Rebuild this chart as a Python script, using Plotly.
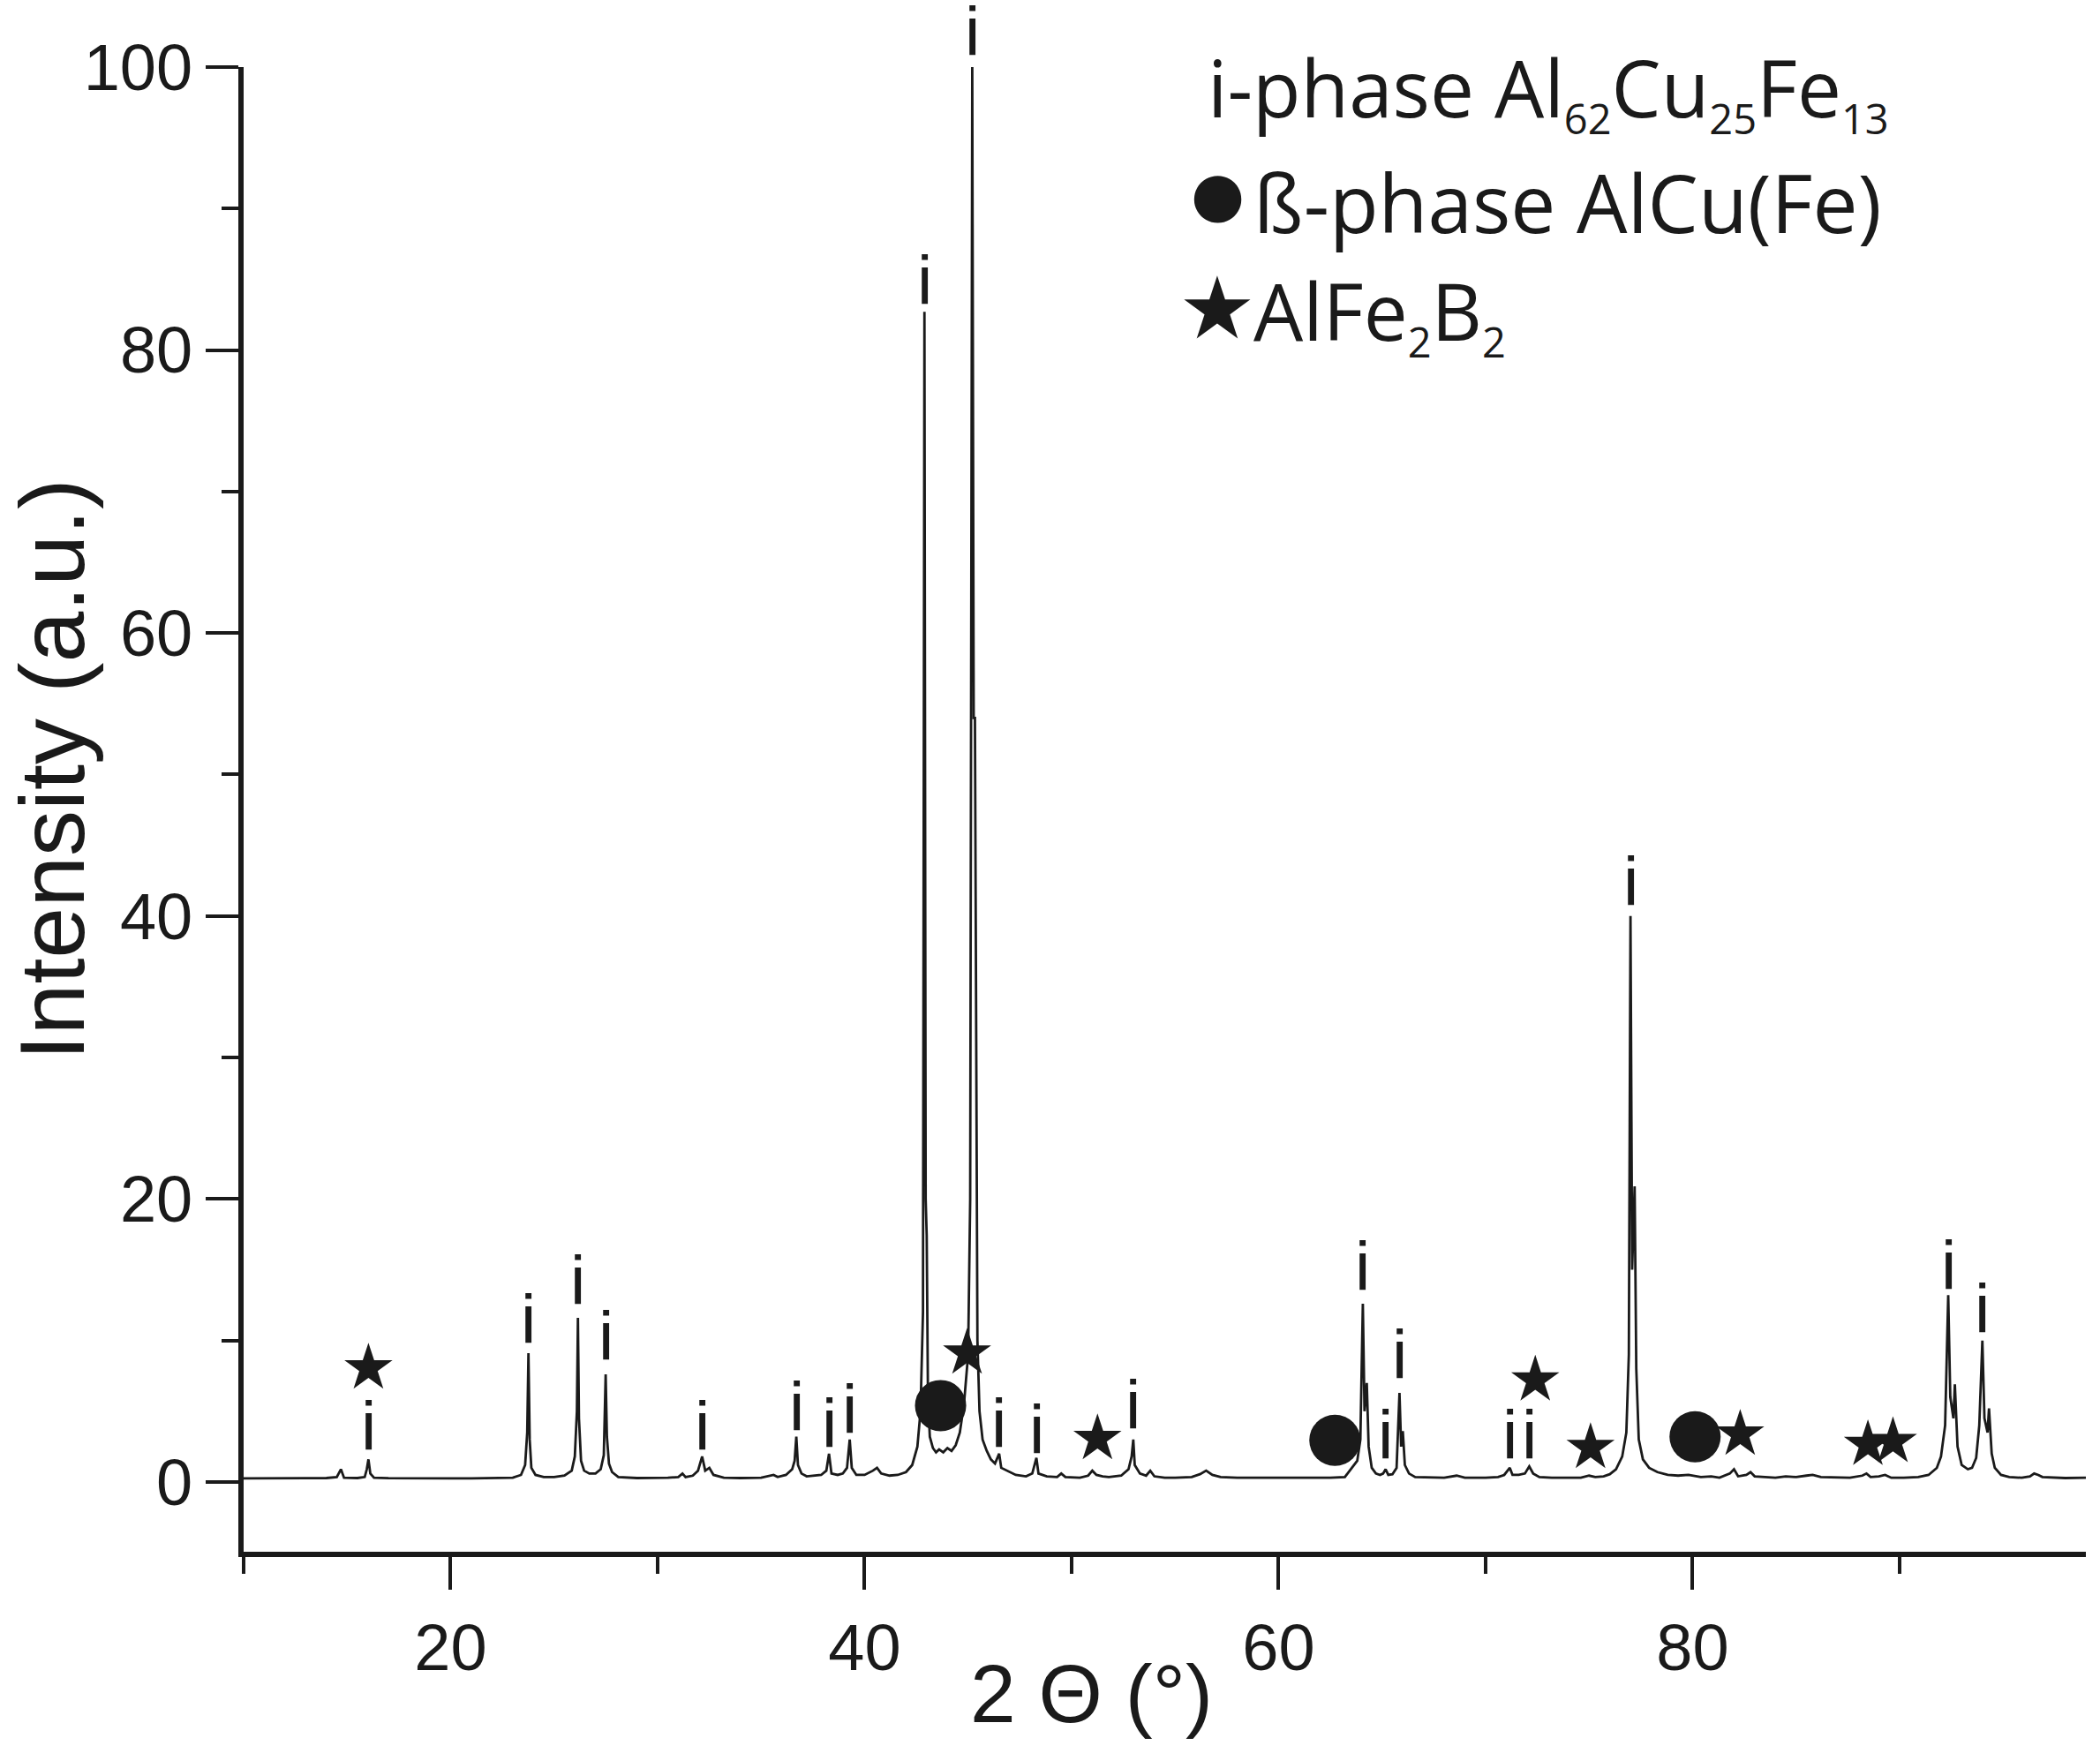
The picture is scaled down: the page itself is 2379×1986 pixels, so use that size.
import plotly.graph_objects as go

# ---------------- data ----------------
TWO_THETA = [
    10.0, 11.0, 12.0, 13.0, 14.0, 14.5, 14.7, 14.85, 15.5, 15.85, 15.95, 16.03, 16.12, 16.3,
    17.0, 18.0, 19.0, 20.0, 21.0, 22.0, 23.0, 23.4, 23.6, 23.7, 23.76, 23.82, 23.9, 24.1,
    24.5, 25.0, 25.5, 25.85, 26.0, 26.1, 26.15, 26.2, 26.3, 26.45, 26.7, 27.0, 27.25, 27.4,
    27.49, 27.55, 27.65, 27.8, 28.1, 29.0, 30.0, 30.5, 31.0, 31.2, 31.35, 31.7, 31.95, 32.15,
    32.3, 32.5, 32.7, 33.2, 34.0, 35.0, 35.6, 35.8, 36.2, 36.5, 36.62, 36.7, 36.78, 36.95,
    37.2, 37.6, 37.9, 38.15, 38.28, 38.4, 38.7, 38.95, 39.15, 39.28, 39.38, 39.6, 40.0, 40.4,
    40.6, 40.8, 41.2, 41.6, 42.0, 42.3, 42.55, 42.7, 42.82, 42.89, 42.95, 43.0, 43.06, 43.15,
    43.3, 43.45, 43.6, 43.8, 44.0, 44.2, 44.4, 44.6, 44.8, 45.0, 45.1, 45.2, 45.27, 45.33,
    45.38, 45.45, 45.55, 45.7, 45.9, 46.1, 46.3, 46.45, 46.5, 46.6, 46.9, 47.3, 47.8, 48.1,
    48.3, 48.4, 48.8, 49.3, 49.5, 49.7, 50.4, 50.8, 51.0, 51.2, 51.5, 51.8, 52.4, 52.75,
    52.9, 52.98, 53.05, 53.3, 53.6, 53.8, 54.0, 54.5, 55.0, 55.8, 56.2, 56.5, 56.8, 57.2,
    58.0, 59.0, 60.0, 61.0, 61.8, 62.5, 63.2, 63.5, 63.8, 63.95, 64.07, 64.15, 64.26, 64.35,
    64.5, 64.7, 64.9, 65.05, 65.17, 65.3, 65.5, 65.7, 65.84, 65.92, 66.0, 66.1, 66.3, 66.6,
    67.5, 68.0, 68.6, 69.0, 70.0, 70.6, 70.9, 71.17, 71.3, 71.6, 71.9, 72.11, 72.3, 72.6,
    73.2, 73.8, 74.6, 75.0, 75.3, 75.7, 76.0, 76.3, 76.6, 76.8, 76.92, 77.0, 77.08, 77.2,
    77.28, 77.4, 77.6, 77.9, 78.3, 78.8, 79.3, 79.8, 80.4, 80.9, 81.3, 81.8, 82.0, 82.2,
    82.6, 82.8, 83.0, 83.5, 84.0, 84.5, 85.0, 85.5, 85.8, 86.2, 87.0, 87.6, 88.2, 88.4,
    88.6, 89.0, 89.3, 89.6, 90.2, 90.9, 91.4, 91.8, 92.0, 92.2, 92.35, 92.45, 92.6, 92.67,
    92.8, 93.0, 93.3, 93.5, 93.7, 93.85, 94.0, 94.1, 94.25, 94.32, 94.45, 94.6, 94.9, 95.3,
    95.9, 96.3, 96.5, 96.7, 96.9, 97.5, 98.0, 99.0,
]
INTENSITY = [
    0.25, 0.27, 0.25, 0.27, 0.28, 0.35, 0.9, 0.3, 0.28, 0.35, 0.9, 1.6, 0.6, 0.3,
    0.27, 0.25, 0.27, 0.25, 0.26, 0.27, 0.3, 0.5, 1.2, 3.5, 9.1, 3.0, 1.0, 0.5,
    0.35, 0.35, 0.45, 0.8, 1.8, 5.0, 11.6, 4.5, 1.5, 0.8, 0.6, 0.6, 0.9, 1.9,
    7.6, 3.2, 1.3, 0.7, 0.35, 0.28, 0.27, 0.3, 0.35, 0.6, 0.35, 0.45, 0.8, 1.8,
    0.8, 1.0, 0.5, 0.3, 0.28, 0.3, 0.5, 0.35, 0.5, 0.9, 1.5, 3.2, 1.2, 0.6,
    0.4, 0.45, 0.5, 0.8, 2.0, 0.6, 0.5, 0.6, 1.0, 3.0, 1.0, 0.5, 0.5, 0.8,
    1.0, 0.6, 0.45, 0.5, 0.7, 1.2, 2.5, 5.0, 12.0, 82.7, 20.0, 17.4, 6.0, 3.2,
    2.4, 2.1, 2.3, 2.1, 2.4, 2.2, 2.6, 3.5, 5.5, 9.0, 20.0, 100.0, 54.0, 54.0,
    38.0, 10.0, 5.0, 3.0, 2.2, 1.6, 1.3, 1.8, 2.0, 1.0, 0.8, 0.5, 0.4, 0.6,
    1.7, 0.6, 0.4, 0.35, 0.6, 0.35, 0.3, 0.45, 0.8, 0.5, 0.4, 0.35, 0.45, 0.9,
    1.8, 3.0, 1.2, 0.6, 0.45, 0.8, 0.4, 0.3, 0.3, 0.35, 0.55, 0.8, 0.5, 0.35,
    0.3, 0.28, 0.3, 0.3, 0.28, 0.3, 0.35, 0.9, 1.5, 3.0, 12.6, 5.0, 7.0, 2.5,
    1.0, 0.6, 0.5, 0.6, 0.9, 0.5, 0.55, 1.0, 6.3, 2.5, 3.6, 1.2, 0.6, 0.35,
    0.3, 0.3, 0.45, 0.3, 0.3, 0.35, 0.5, 1.0, 0.5, 0.5, 0.6, 1.1, 0.6, 0.35,
    0.3, 0.3, 0.3, 0.45, 0.35, 0.4, 0.55, 0.9, 1.8, 3.5, 9.0, 40.0, 15.0, 20.9,
    8.0, 3.0, 1.6, 1.0, 0.7, 0.5, 0.45, 0.5, 0.35, 0.4, 0.3, 0.6, 0.9, 0.4,
    0.5, 0.7, 0.4, 0.35, 0.3, 0.4, 0.35, 0.45, 0.5, 0.35, 0.3, 0.3, 0.45, 0.6,
    0.35, 0.4, 0.5, 0.3, 0.3, 0.35, 0.5, 1.0, 1.8, 4.0, 13.2, 6.0, 4.5, 6.9,
    2.5, 1.2, 0.9, 1.0, 1.7, 4.0, 10.0, 4.5, 3.5, 5.2, 2.0, 1.0, 0.5, 0.35,
    0.3, 0.4, 0.6, 0.5, 0.35, 0.3, 0.28, 0.3,
]

# "i" (icosahedral phase) labels: peak positions and label centres
I_X = [16.03, 23.76, 26.15, 27.49, 32.15, 36.7, 38.28, 39.28, 42.89, 45.2, 46.5, 48.3,
       52.98, 64.07, 65.17, 65.84, 71.17, 72.11, 77.0, 92.35, 94.0]
I_Y = [3.9, 11.5, 14.2, 10.3, 3.9, 5.3, 4.1, 5.1, 84.9, 102.5, 4.1, 3.7,
       5.4, 15.2, 3.3, 9.0, 3.3, 3.3, 42.4, 15.3, 12.2]

# beta-phase (circles) and AlFe2B2 (stars) markers
BETA_X = [43.67, 62.72, 80.12]
BETA_Y = [5.4, 2.95, 3.2]
STAR_X = [16.03, 44.95, 51.25, 72.4, 75.07, 82.3, 88.47, 89.68]
STAR_Y = [8.05, 9.1, 3.06, 7.2, 2.43, 3.37, 2.64, 2.85]

X_TICKS = [20, 40, 60, 80]
Y_TICKS = [0, 20, 40, 60, 80, 100]
X_RANGE = [10, 99]
Y_RANGE = [-4.93, 100]

# ---------------- layout constants ----------------
W, H = 2379, 1986
L, R, T, B = 275.5, 2362.6, 76.0, 1758.4   # plot-area pixel edges
INK = "#1a1a1a"
NARROW = "Liberation Sans Narrow, Arial Narrow, Liberation Sans, Arial, sans-serif"
SANS = "Liberation Sans, Arial, sans-serif"
LEG = "Open Sans, Noto Sans, sans-serif"


def px(fx):
    return (fx - L) / (R - L)


def py(fy):
    return (B - fy) / (B - T)


def sub(s):
    return '<sub><span style="font-size:47px">%s</span></sub>' % s


fig = go.Figure()

fig.add_trace(go.Scatter(
    x=TWO_THETA, y=INTENSITY, mode="lines",
    line=dict(color=INK, width=2.8), hoverinfo="skip", showlegend=False,
))
fig.add_trace(go.Scatter(
    x=BETA_X, y=BETA_Y, mode="markers",
    marker=dict(symbol="circle", size=58, color=INK, line=dict(width=0)),
    showlegend=False,
))
fig.add_trace(go.Scatter(
    x=STAR_X, y=STAR_Y, mode="markers",
    marker=dict(symbol="star", size=41, color=INK, line=dict(width=0)),
    showlegend=False,
))

axis_common = dict(
    showgrid=False, zeroline=False, showline=True, linecolor=INK, linewidth=6,
    ticks="outside", ticklen=37, tickwidth=4, tickcolor=INK,
    tickfont=dict(family=NARROW, size=74, color=INK),
    minor=dict(ticks="outside", ticklen=19, tickwidth=4, tickcolor=INK, dtick=10, tick0=0),
)

fig.update_layout(
    width=W, height=H,
    margin=dict(l=L, r=W - R, t=T, b=H - B, pad=0),
    paper_bgcolor="white", plot_bgcolor="white",
    xaxis=dict(range=X_RANGE, tickvals=X_TICKS, ticklabelstandoff=2, **axis_common),
    yaxis=dict(range=Y_RANGE, tickvals=Y_TICKS, **axis_common),
    showlegend=False,
)

annotations = [
    # axis titles
    dict(text="Intensity (a.u.)", x=px(58), y=py(872), textangle=-90,
         font=dict(family=SANS, size=104, color=INK)),
    dict(text="2 \u0398 (\u00b0)", x=px(1236), y=py(1919),
         font=dict(family=NARROW, size=93, color=INK)),
    # legend text
    dict(text="i-phase Al" + sub("62") + "Cu" + sub("25") + "Fe" + sub("13"),
         x=px(1366), y=py(102), xanchor="left", font=dict(family=LEG, size=89, color=INK)),
    dict(text="\u00df-phase AlCu(Fe)", x=px(1418), y=py(229),
         xanchor="left", font=dict(family=LEG, size=91, color=INK)),
    dict(text="AlFe" + sub("2") + "B" + sub("2"), x=px(1418), y=py(355),
         xanchor="left", font=dict(family=LEG, size=89, color=INK)),
    # legend symbols
    dict(text="\u25cf", x=px(1379), y=py(220),
         font=dict(family="DejaVu Sans", size=70, color=INK)),
    dict(text="\u2605", x=px(1379), y=py(349),
         font=dict(family="DejaVu Sans", size=98, color=INK)),
]
# "i" peak labels (paper y so the label above the axis top is not hidden)
for xv, yv in zip(I_X, I_Y):
    annotations.append(dict(
        text="i", x=xv, xref="x",
        y=(yv - Y_RANGE[0]) / (Y_RANGE[1] - Y_RANGE[0]),
        font=dict(family=NARROW, size=78, color=INK),
    ))

for a in annotations:
    a.setdefault("xanchor", "center")
    a.setdefault("xref", "paper")
    a.update(yref="paper", yanchor="middle", showarrow=False)
fig.update_layout(annotations=annotations)

fig.write_html(
    "out.html",
    config={"displayModeBar": False},
    post_script="document.body.style.margin='0';document.body.style.overflow='hidden';",
)
